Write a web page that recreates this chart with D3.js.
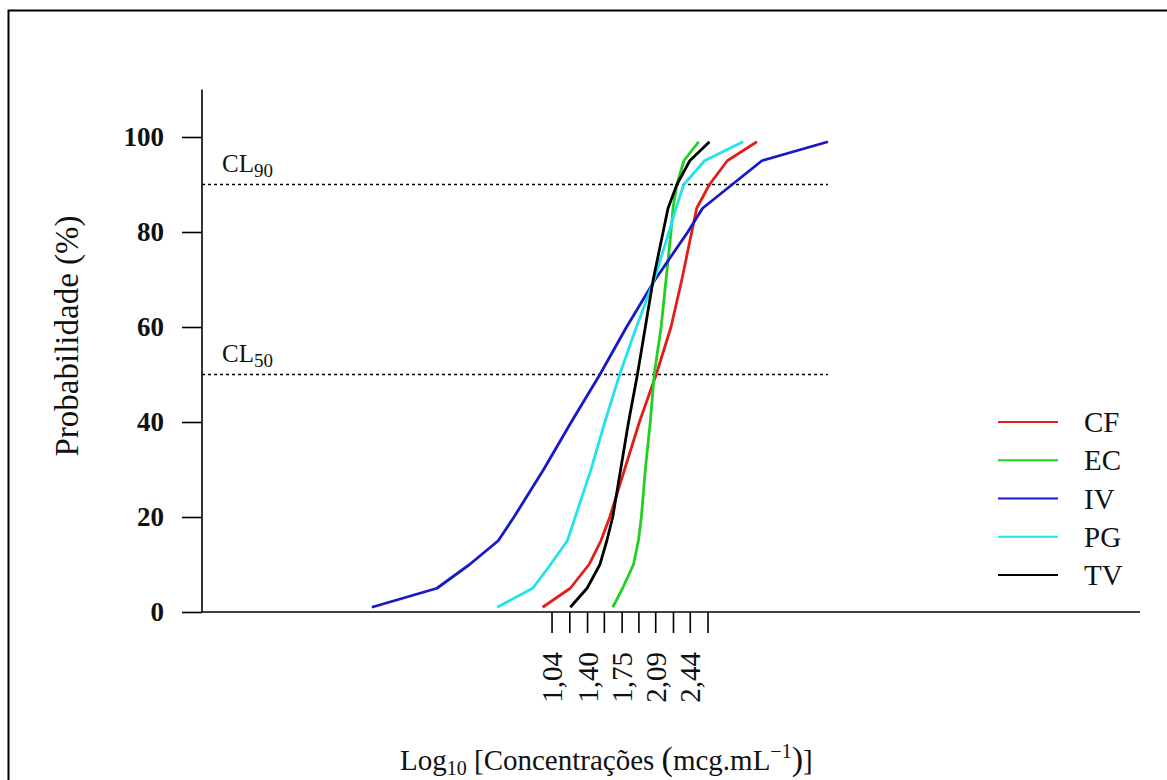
<!DOCTYPE html>
<html>
<head>
<meta charset="utf-8">
<script src="https://cdn.jsdelivr.net/npm/d3@7"></script>
<style>
  html, body { margin: 0; padding: 0; background: #fff; }
  svg text { font-family: "Liberation Serif", "Times New Roman", serif; fill: #111; }
</style>
</head>
<body>
<svg id="chart" width="1167" height="780"></svg>
<script>
// ---- data ----
const probLevels = [1, 5, 10, 15, 20, 30, 40, 50, 60, 70, 80, 85, 90, 95, 99];
const seriesNames = ["CF", "EC", "IV", "PG", "TV"];
const seriesColors = ["#e31c1c", "#22d022", "#1818c4", "#22e2ee", "#000000"];
const cfLog = [0.95, 1.23, 1.42, 1.54, 1.63, 1.78, 1.93, 2.10, 2.25, 2.36, 2.46, 2.51, 2.64, 2.82, 3.12];
const ecLog = [1.66, 1.76, 1.87, 1.92, 1.95, 1.99, 2.04, 2.08, 2.15, 2.20, 2.25, 2.27, 2.31, 2.38, 2.53];
const ivLog = [-0.78, -0.12, 0.21, 0.50, 0.66, 0.96, 1.24, 1.53, 1.80, 2.09, 2.42, 2.57, 2.87, 3.17, 3.84];
const pgLog = [0.49, 0.85, 1.03, 1.20, 1.28, 1.44, 1.58, 1.73, 1.90, 2.08, 2.23, 2.30, 2.38, 2.59, 2.98];
const tvLog = [1.23, 1.40, 1.53, 1.60, 1.66, 1.74, 1.82, 1.91, 1.99, 2.07, 2.17, 2.22, 2.31, 2.44, 2.64];
const seriesValues = [cfLog, ecLog, ivLog, pgLog, tvLog];
const xTickValues = [1.04, 1.22, 1.40, 1.57, 1.75, 1.92, 2.09, 2.27, 2.44, 2.62];
const xTickLabels = ["1,04", "", "1,40", "", "1,75", "", "2,09", "", "2,44", ""];
const yTickValues = [0, 20, 40, 60, 80, 100];
const refLevels = [90, 50];
const refLabels = ["90", "50"];

// ---- layout ----
const svg = d3.select("#chart");
const x = d3.scaleLinear().domain([-2.5, 7.0]).range([202, 1140]);
const y = d3.scaleLinear().domain([0, 110]).range([612, 89.5]);

// outer frame
svg.append("rect").attr("x", 8.5).attr("y", 10.5).attr("width", 1200).attr("height", 800)
  .attr("fill", "none").attr("stroke", "#000").attr("stroke-width", 2);

// y axis
const yAxis = d3.axisLeft(y).tickValues(yTickValues).tickSize(20).tickPadding(18).tickFormat(d3.format("d"));
const gy = svg.append("g").attr("transform", "translate(202,0)").call(yAxis);
gy.select(".domain").attr("d", `M0,${y(110)}V${y(0)}`).attr("stroke", "#000").attr("stroke-width", 1.6);
gy.selectAll(".tick line").attr("stroke", "#000").attr("stroke-width", 1.6);
gy.selectAll(".tick text").style("font-family", "'Liberation Serif', serif").style("font-size", "27px")
  .style("font-weight", "bold").attr("fill", "#111");

// x axis
const xAxis = d3.axisBottom(x).tickValues(xTickValues).tickSize(21).tickFormat((d, i) => xTickLabels[i]);
const gx = svg.append("g").attr("transform", "translate(0,612)").call(xAxis);
gx.select(".domain").attr("d", `M${x(-2.5)},0H${x(7.0)}`).attr("stroke", "#000").attr("stroke-width", 1.6);
gx.selectAll(".tick line").attr("stroke", "#000").attr("stroke-width", 1.6);
gx.selectAll(".tick text")
  .style("font-family", "'Liberation Serif', serif").style("font-size", "29px").attr("fill", "#111")
  .attr("text-anchor", "end").attr("transform", "rotate(-90)")
  .attr("x", -40).attr("y", 0).attr("dy", "0.35em");

// reference dotted lines
const allVals = seriesValues.flat();
const refXMax = d3.max(allVals);
refLevels.forEach((lv, i) => {
  svg.append("line").attr("x1", x(-2.5)).attr("x2", x(refXMax)).attr("y1", y(lv)).attr("y2", y(lv))
    .attr("stroke", "#000").attr("stroke-width", 1.5).attr("stroke-dasharray", "3,3");
  const t = svg.append("text").attr("x", 222).attr("y", y(lv) - 13).style("font-size", "25px");
  t.append("tspan").text("CL");
  t.append("tspan").attr("dy", 5).style("font-size", "19px").text(refLabels[i]);
});

// curves
const line = d3.line().x(d => x(d[0])).y(d => y(d[1]));
seriesValues.forEach((vals, i) => {
  const pts = vals.map((v, j) => [v, probLevels[j]]);
  svg.append("path").datum(pts).attr("d", line).attr("fill", "none")
    .attr("stroke", seriesColors[i]).attr("stroke-width", 2.8).attr("stroke-linejoin", "round");
});

// legend
const legY = d3.scalePoint().domain(seriesNames).range([422, 575]);
seriesNames.forEach((n, i) => {
  svg.append("line").attr("x1", 998).attr("x2", 1058).attr("y1", legY(n)).attr("y2", legY(n))
    .attr("stroke", seriesColors[i]).attr("stroke-width", 2);
  svg.append("text").attr("x", 1084).attr("y", legY(n)).attr("dy", "0.35em")
    .style("font-size", "29px").text(n);
});

// axis titles
svg.append("text").attr("transform", "translate(78,336) rotate(-90)").attr("text-anchor", "middle")
  .style("font-size", "33px").text("Probabilidade (%)");

const xt = svg.append("text").attr("x", 400).attr("y", 770).style("font-size", "29px");
xt.append("tspan").text("Log");
xt.append("tspan").attr("dy", 5).style("font-size", "20px").text("10");
xt.append("tspan").attr("dy", -5).text(" [Concentrações ");
xt.append("tspan").style("font-size", "34px").text("(");
xt.append("tspan").text("mcg.mL");
xt.append("tspan").attr("dy", -12).style("font-size", "20px").text("−1");
xt.append("tspan").attr("dy", 12).style("font-size", "34px").text(")");
xt.append("tspan").text("]");
</script>
</body>
</html>
